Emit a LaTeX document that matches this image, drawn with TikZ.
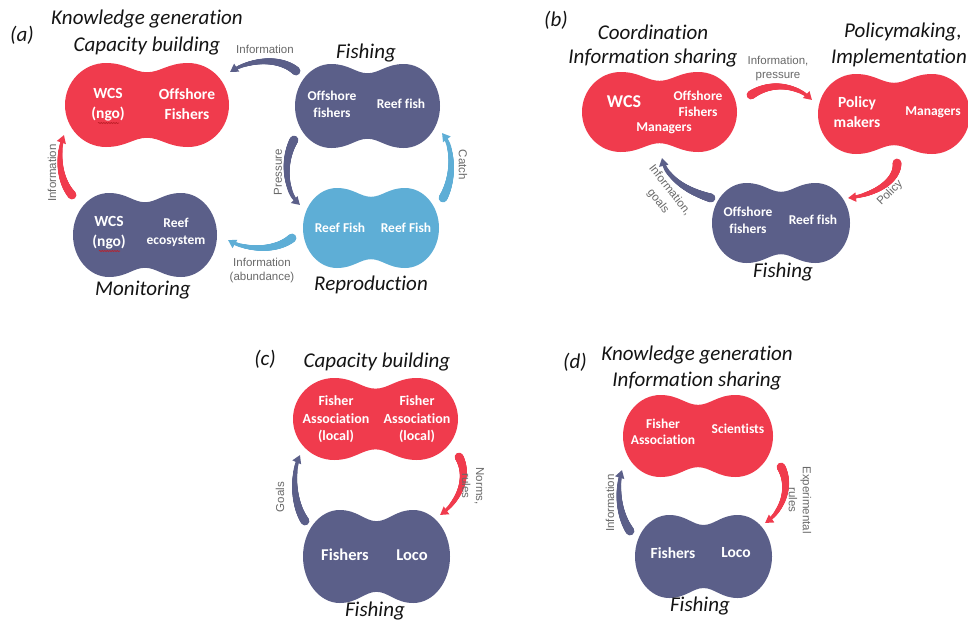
\documentclass[tikz,border=0pt]{standalone}
\usepackage{fontspec}
\setmainfont{Carlito}[Ligatures={NoCommon}]
\newfontfamily\labfont{Liberation Sans}
\usetikzlibrary{arrows.meta,decorations.markings,decorations.pathmorphing}
\definecolor{cred}{RGB}{240,59,77}
\definecolor{cdark}{RGB}{91,95,137}
\definecolor{clight}{RGB}{94,174,214}
\definecolor{clab}{RGB}{105,105,105}
\definecolor{chead}{RGB}{20,20,20}
\definecolor{csquig}{RGB}{190,30,40}
% name, cx, cy, half width, half height, colour, waist
\newcommand{\blob}[7]{%
  \begin{scope}[shift={(#2,#3)},xscale=#4,yscale=#5]
    \fill[#6] (0,#7) .. controls (0.16,#7) and (0.26,1) .. (0.5,1)
      .. controls (0.776,1) and (1,0.55) .. (1,0)
      .. controls (1,-0.55) and (0.776,-1) .. (0.5,-1)
      .. controls (0.26,-1) and (0.16,-#7) .. (0,-#7)
      .. controls (-0.16,-#7) and (-0.26,-1) .. (-0.5,-1)
      .. controls (-0.776,-1) and (-1,-0.55) .. (-1,0)
      .. controls (-1,0.55) and (-0.776,1) .. (-0.5,1)
      .. controls (-0.26,1) and (-0.16,#7) .. (0,#7) -- cycle;
  \end{scope}
  \coordinate (#1) at (#2,#3);%
}
\tikzset{
  tarrow/.style={draw=#1, line width=2pt, -{Triangle[width=9pt,length=8pt]},
    postaction={decorate, decoration={markings,
      mark=between positions 0 and -7pt step 0.5pt with {%
        \pgfmathsetmacro\rr{4.4-3.2*(\pgfkeysvalueof{/pgf/decoration/mark info/distance from start})/(\pgfdecoratedpathlength)}%
        \fill[#1] (0pt,0pt) circle (\rr pt);}}}},
  hd/.style={font=\fontsize{21}{25}\selectfont\itshape, text=chead, inner sep=0pt},
  bt/.style={text=white, font=\bfseries\fontsize{13.5}{16.5}\selectfont, align=center, inner sep=0pt},
  btl/.style={text=white, font=\bfseries\fontsize{15.5}{20}\selectfont, align=center, inner sep=0pt},
  lab/.style={text=clab, font=\labfont\fontsize{11.5}{14}\selectfont, align=center, inner sep=0pt},
  squig/.style={draw=csquig, line width=0.6pt, decorate, decoration={snake, amplitude=0.6pt, segment length=2.5pt}}
}
\begin{document}
\begin{tikzpicture}[x=1pt,y=-1pt]
\useasboundingbox (0,0) rectangle (968,621);
\fill[white] (0,0) rectangle (968,621);

% ---------------- (a) ----------------
\blob{aR}{147}{105}{82}{42}{cred}{0.78}
\blob{aF}{367.5}{106}{72.5}{42}{cdark}{0.78}
\blob{aM}{145}{235}{72}{42}{cdark}{0.78}
\blob{aB}{371}{228}{68}{40}{clight}{0.78}

\node[hd] (alab) at (22,35) {(a)};
\node[hd] (ah1) at (147,19) {Knowledge generation};
\node[hd] (ah2) at (147,46) {Capacity building};
\node[hd] (ah3) at (366,53) {Fishing};
\node[hd] (ah4) at (143,290) {Monitoring};
\node[hd] (ah5) at (371,285) {Reproduction};

\node[btl] (aR1) at (108,105) {WCS\\(ngo)};
\node[btl] (aR2) at (187,104) {Offshore\\Fishers};
\draw[squig] (98,123) -- (119,123);
\node[bt] (aF1) at (332,104.5) {Offshore\\fishers};
\node[bt] (aF2) at (401,104) {Reef fish};
\node[btl] (aM1) at (109,233) {WCS\\(ngo)};
\draw[squig] (99,251) -- (120,251);
\node[bt] (aM2) at (176,232.5) {Reef\\ecosystem};
\node[bt] (aB1) at (340,228) {Reef Fish};
\node[bt] (aB2) at (406,228) {Reef Fish};

\coordinate (a1s) at (296,71); \coordinate (a1e) at (230,72);
\draw[tarrow=cdark] (a1s) .. controls (280,57) and (250,59) .. (a1e);
\node[lab] (a1l) at (265,49) {Information};

\coordinate (a2s) at (294,140); \coordinate (a2e) at (300,205);
\draw[tarrow=cdark] (a2s) .. controls (283,160) and (284,190) .. (a2e);
\node[lab, rotate=90] (a2l) at (278,172) {Pressure};

\coordinate (a3s) at (443,198); \coordinate (a3e) at (442,133);
\draw[tarrow=clight] (a3s) .. controls (453,180) and (455,150) .. (a3e);
\node[lab, rotate=-90] (a3l) at (463,165) {Catch};

\coordinate (a4s) at (292,238); \coordinate (a4e) at (228,240);
\draw[tarrow=clight] (a4s) .. controls (275,252) and (245,250) .. (a4e);
\node[lab] (a4l) at (262,271) {Information\\(abundance)};

\coordinate (a5s) at (72,195); \coordinate (a5e) at (64,135);
\draw[tarrow=cred] (a5s) .. controls (59,180) and (57,155) .. (a5e);
\node[lab, rotate=90] (a5l) at (52,173) {Information};

% ---------------- (b) ----------------
\blob{bL}{659.5}{112}{77.5}{40}{cred}{0.78}
\blob{bR}{894}{114}{76}{40}{cred}{0.78}
\blob{bF}{781}{223}{69}{40}{cdark}{0.78}

\node[hd] (blab) at (556,20) {(b)};
\node[hd] (bh1) at (653,32) {Coordination};
\node[hd] (bh2) at (653,58) {Information sharing};
\node[hd] (bh3) at (903,32) {Policymaking,};
\node[hd, anchor=east] (bh4) at (967,58) {Implementation};
\node[hd] (bh5) at (783,272) {Fishing};

\node[text=white, font=\bfseries\fontsize{18}{20}\selectfont, inner sep=0pt] (bL1) at (624,102) {WCS};
\node[bt] (bL2) at (698,104) {Offshore\\Fishers};
\node[bt] (bL3) at (664,128) {Managers};
\node[btl] (bR1) at (857,112.5) {Policy\\makers};
\node[bt] (bR2) at (933,112) {Managers};
\node[bt] (bF1) at (748,220.5) {Offshore\\fishers};
\node[bt] (bF2) at (813,220) {Reef fish};

\coordinate (b1s) at (751,95); \coordinate (b1e) at (812,100);
\draw[tarrow=cred] (b1s) .. controls (770,82) and (795,84) .. (b1e);
\node[lab] (b1l) at (778,69) {Information,\\pressure};

\coordinate (b2s) at (897,163); \coordinate (b2e) at (848,198);
\draw[tarrow=cred] (b2s) .. controls (898,180) and (876,195) .. (b2e);
\node[lab, rotate=45] (b2l) at (890,193) {Policy};

\coordinate (b3s) at (711,198); \coordinate (b3e) at (662,158);
\draw[tarrow=cdark] (b3s) .. controls (690,192) and (667,180) .. (b3e);
\node[lab, rotate=-52] (b3l) at (670,190) {Information,};
\node[lab, rotate=-52] (b3m) at (658,201) {goals};

% ---------------- (c) ----------------
\blob{cR}{375.5}{419}{82.5}{41}{cred}{0.74}
\blob{cF}{376.5}{556.5}{73.5}{46.5}{cdark}{0.76}

\node[hd] (clab) at (265,359) {(c)};
\node[hd] (ch1) at (377,362) {Capacity building};
\node[hd] (ch2) at (375,611) {Fishing};

\node[bt, font=\bfseries\fontsize{14}{17.5}\selectfont] (cR1) at (336,419.5) {Fisher\\Association\\(local)};
\node[bt, font=\bfseries\fontsize{14}{17.5}\selectfont] (cR2) at (417,419.5) {Fisher\\Association\\(local)};
\node[btl, font=\bfseries\fontsize{16.5}{20}\selectfont] (cF1) at (345,555) {Fishers};
\node[btl, font=\bfseries\fontsize{16.5}{20}\selectfont] (cF2) at (412,555) {Loco};

\coordinate (c1s) at (459,457); \coordinate (c1e) at (440,515);
\draw[tarrow=cred] (c1s) .. controls (469,475) and (461,500) .. (c1e);
\node[lab, rotate=-90] (c1l) at (473,486) {Norms,\\rules};

\coordinate (c2s) at (305,521); \coordinate (c2e) at (300,455);
\draw[tarrow=cdark] (c2s) .. controls (294,505) and (291,475) .. (c2e);
\node[lab, rotate=90] (c2l) at (280,497) {Goals};

% ---------------- (d) ----------------
\blob{dR}{698}{436}{75}{41}{cred}{0.76}
\blob{dF}{703.5}{556.5}{68.5}{41.5}{cdark}{0.76}

\node[hd] (dlab) at (575,362) {(d)};
\node[hd] (dh1) at (697,355) {Knowledge generation};
\node[hd] (dh2) at (697,381) {Information sharing};
\node[hd] (dh3) at (700,606) {Fishing};

\node[bt] (dR1) at (663,432) {Fisher\\Association};
\node[bt] (dR2) at (738,429) {Scientists};
\node[btl] (dF1) at (673,553) {Fishers};
\node[btl] (dF2) at (736,553) {Loco};

\coordinate (d1s) at (781,467); \coordinate (d1e) at (765,523);
\draw[tarrow=cred] (d1s) .. controls (791,485) and (784,510) .. (d1e);
\node[lab, rotate=-90] (d1l) at (800,500) {Experimental\\rules};

\coordinate (d2s) at (630,531); \coordinate (d2e) at (622,470);
\draw[tarrow=cdark] (d2s) .. controls (619,515) and (616,490) .. (d2e);
\node[lab, rotate=90] (d2l) at (610,503) {Information};
\end{tikzpicture}
\end{document}
